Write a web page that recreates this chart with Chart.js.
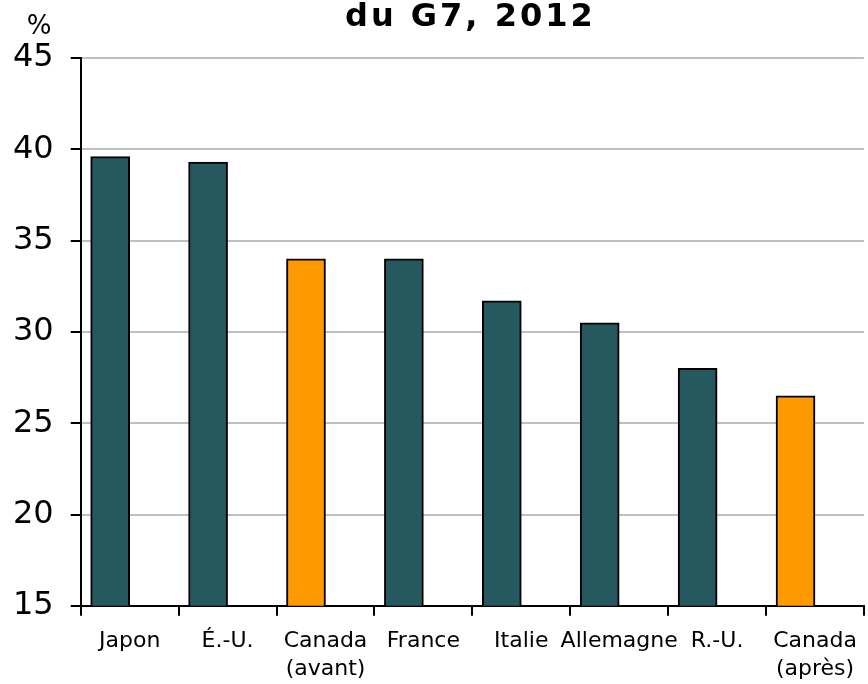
<!DOCTYPE html>
<html>
<head>
<meta charset="utf-8">
<script src="https://cdn.jsdelivr.net/npm/chart.js@4/dist/chart.umd.min.js"></script>
<style>
  body { margin: 0; background: #fff; }
  canvas { display: block; }
</style>
</head>
<body>
<canvas id="taxChart" width="868" height="684"></canvas>
<script>
const titleText = 'du G7, 2012';
const unitText = '%';

const categories = [
  ['Japon'],
  ['É.-U.'],
  ['Canada', '(avant)'],
  ['France'],
  ['Italie'],
  ['Allemagne'],
  ['R.-U.'],
  ['Canada', '(après)']
];
const rates = [39.6, 39.3, 34.0, 34.0, 31.7, 30.5, 28.0, 26.5];
// Excel chart has an empty second series, which pushes the bars left of centre
const emptySeries = [null, null, null, null, null, null, null, null];

const teal = '#26585F';
const orange = '#FF9900';
const barColors = [teal, teal, orange, teal, teal, teal, teal, orange];

const yTicks = [15, 20, 25, 30, 35, 40, 45];

// title and % drawn over the chart, lined up with the plot area
const headerText = {
  id: 'headerText',
  afterDraw(chart) {
    const ctx = chart.ctx;
    const area = chart.chartArea;
    ctx.save();
    ctx.fillStyle = '#000';
    ctx.textBaseline = 'alphabetic';
    ctx.textAlign = 'center';
    ctx.font = 'bold 32px "DejaVu Sans"';
    ctx.letterSpacing = '3px';
    ctx.fillText(titleText, (area.left + area.right) / 2 - 2, 26);
    ctx.letterSpacing = '0px';
    ctx.font = '26px "DejaVu Sans"';
    ctx.fillText(unitText, 39, 34);
    ctx.restore();
  }
};

new Chart('taxChart', {
  type: 'bar',
  data: {
    labels: categories,
    datasets: [
      {
        data: rates,
        backgroundColor: barColors,
        borderColor: '#000',
        borderWidth: 2,
        borderSkipped: false
      },
      {
        data: emptySeries
      }
    ]
  },
  options: {
    responsive: false,
    animation: false,
    barThickness: 39,
    layout: {
      padding: { top: 58, left: -4, right: 2, bottom: -11 }
    },
    plugins: {
      legend: { display: false },
      tooltip: { enabled: false },
      title: { display: false }
    },
    scales: {
      x: {
        grid: {
          offset: true,
          drawOnChartArea: false,
          drawTicks: true,
          tickLength: 10,
          tickColor: '#000',
          lineWidth: 2
        },
        border: { display: true, color: '#000', width: 2 },
        ticks: {
          color: '#000',
          padding: 11,
          maxRotation: 0,
          autoSkip: false,
          font: { family: '"DejaVu Sans"', size: 22, lineHeight: 1.3 }
        }
      },
      y: {
        min: 15,
        max: 45,
        afterBuildTicks(axis) {
          axis.ticks = yTicks.map(v => ({ value: v }));
        },
        grid: {
          color: '#c0c0c0',
          lineWidth: 2,
          drawTicks: true,
          tickLength: 10,
          tickColor: '#000'
        },
        border: { display: true, color: '#000', width: 2 },
        ticks: {
          color: '#000',
          padding: 17,
          font: { family: '"DejaVu Sans"', size: 32 }
        }
      }
    }
  },
  plugins: [headerText]
});
</script>
</body>
</html>
